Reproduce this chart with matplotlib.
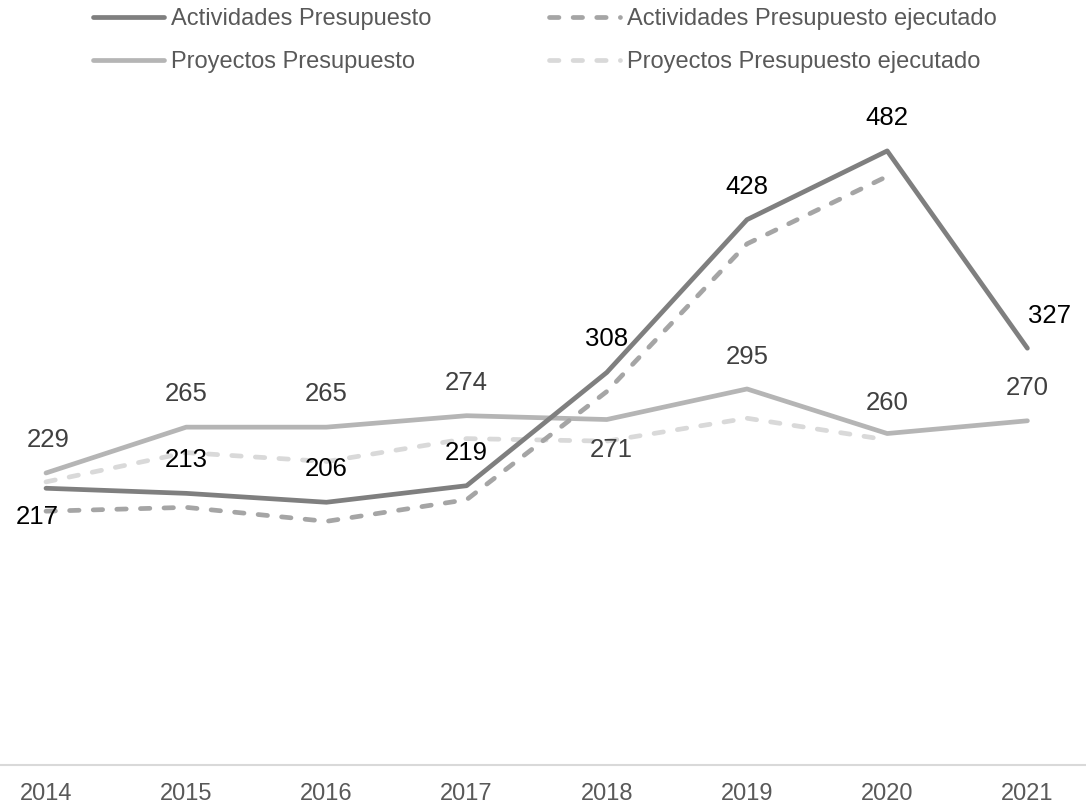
import matplotlib
matplotlib.use("Agg")
import matplotlib.pyplot as plt
import numpy as np

plt.rcParams['font.family'] = ['Liberation Sans', 'DejaVu Sans']

years = ['2014', '2015', '2016', '2017', '2018', '2019', '2020', '2021']
act_pres = [217, 213, 206, 219, 308, 428, 482, 327]
act_ejec = [199, 202, 191, 208, 293, 409, 462, np.nan]
proy_pres = [229, 265, 265, 274, 271, 295, 260, 270]
proy_ejec = [222, 245, 238, 256, 254, 272, 255, np.nan]

names = ['Actividades Presupuesto', 'Actividades Presupuesto ejecutado',
         'Proyectos Presupuesto', 'Proyectos Presupuesto ejecutado']

W, H = 1086, 806
fig = plt.figure(figsize=(W / 100, H / 100), dpi=100)
y0 = 764.5
scale = 1.273
ytop = 550
ax = fig.add_axes([0, (H - y0) / H, 1, ytop * scale / H])
x = np.arange(len(years))
ax.set_xlim(-46 / 140.2, (W - 46) / 140.2)
ax.set_ylim(0, ytop)

lw = 3.4
c_ap, c_ae, c_pp, c_pe = '#7f7f7f', '#a5a5a5', '#b5b5b5', '#d9d9d9'
l_pp, = ax.plot(x, proy_pres, color=c_pp, lw=lw, solid_capstyle='round', solid_joinstyle='round', zorder=2)
l_pe, = ax.plot(x, proy_ejec, color=c_pe, lw=lw, dashes=(2, 3), dash_capstyle='round', zorder=2)
l_ap, = ax.plot(x, act_pres, color=c_ap, lw=lw, solid_capstyle='round', solid_joinstyle='round', zorder=3)
l_ae, = ax.plot(x, act_ejec, color=c_ae, lw=lw, dashes=(2, 3), dash_capstyle='round', zorder=3)

# data labels
act_off = [(-9, -29)] + [(0, 33)] * 6 + [(22, 32)]
for i, v in enumerate(act_pres):
    dx, dy = act_off[i]
    ax.annotate(f'{v}', (x[i], v), xytext=(dx, dy), textcoords='offset pixels',
                ha='center', va='center', fontsize=18.5, color='#000000', zorder=5)
proy_off = [(2, 33), (0, 33), (0, 33), (0, 33), (4, -30), (0, 32), (0, 31), (0, 33)]
for i, v in enumerate(proy_pres):
    dx, dy = proy_off[i]
    ax.annotate(f'{v}', (x[i], v), xytext=(dx, dy), textcoords='offset pixels',
                ha='center', va='center', fontsize=18.5, color='#404040', zorder=5)

for s in ['top', 'left', 'right']:
    ax.spines[s].set_visible(False)
ax.spines['bottom'].set_color('#d9d9d9')
ax.spines['bottom'].set_linewidth(1.5)
ax.set_yticks([])
ax.set_xticks(x)
ax.set_xticklabels(years)
ax.tick_params(axis='x', length=0, pad=13, labelsize=17, labelcolor='#595959')

leg = fig.legend([l_ap, l_pp, l_ae, l_pe], [names[0], names[2], names[1], names[3]],
                 ncol=2, loc='upper left', bbox_to_anchor=(93 / W, 1 - 8 / H),
                 frameon=False, fontsize=17, handlelength=3.0, handletextpad=0.3,
                 columnspacing=5.0, labelspacing=0.9, borderpad=0, borderaxespad=0)
for t in leg.get_texts():
    t.set_color('#595959')

fig.savefig('out.png', dpi=100)
